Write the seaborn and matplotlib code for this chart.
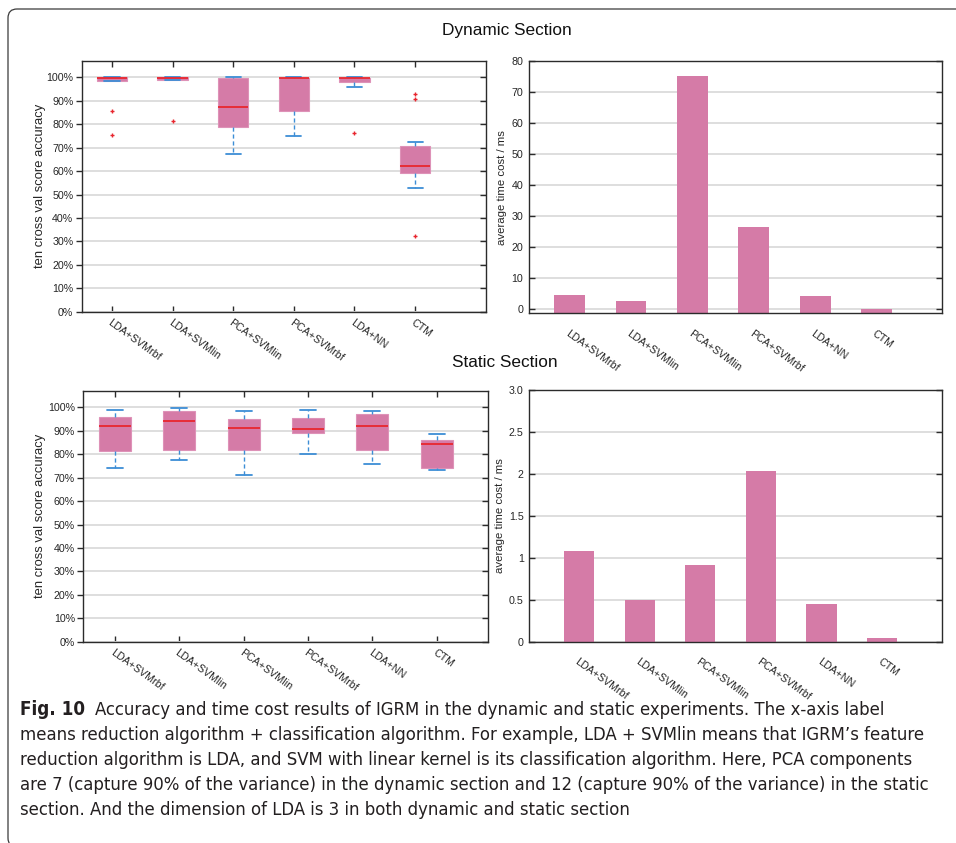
import os
import matplotlib
matplotlib.use("Agg")
import matplotlib.pyplot as plt
import seaborn as sns
import numpy as np
import pandas as pd
from matplotlib.patches import FancyBboxPatch
from matplotlib.transforms import IdentityTransform
from matplotlib import font_manager as fm

# ---------------- data ----------------
methods = ["LDA+SVMrbf", "LDA+SVMlin", "PCA+SVMlin", "PCA+SVMrbf", "LDA+NN", "CTM"]

# Dynamic section: ten-fold cross validation accuracy (%) box statistics
dyn_whislo = [98.3, 98.7, 67.1, 75.1, 96.0, 52.8]
dyn_q1 = [98.6, 99.0, 78.8, 85.5, 97.9, 59.0]
dyn_med = [99.7, 99.9, 87.3, 99.6, 99.7, 62.2]
dyn_q3 = [100.0, 100.0, 99.9, 99.7, 99.9, 70.8]
dyn_whishi = [100.0, 100.0, 100.0, 100.0, 100.0, 72.3]
dyn_fliers = [[85.5, 75.5], [81.6], [], [], [76.4], [93.0, 90.9, 32.3]]

# Static section
sta_whislo = [74.3, 77.7, 71.3, 79.9, 75.9, 73.1]
sta_q1 = [81.3, 81.7, 81.7, 89.0, 81.7, 74.3]
sta_med = [91.9, 94.4, 91.0, 90.6, 91.9, 84.3]
sta_q3 = [95.9, 98.3, 95.1, 95.6, 97.0, 86.0]
sta_whishi = [99.0, 99.9, 98.3, 99.0, 98.3, 88.7]
sta_fliers = [[], [], [], [], [], []]

# average time cost / ms
dyn_time = [4.5, 2.7, 75.3, 26.5, 4.4, 0.2]
sta_time = [1.08, 0.50, 0.92, 2.03, 0.45, 0.05]

pct_ticks = [0, 10, 20, 30, 40, 50, 60, 70, 80, 90, 100]
pct_labels = ["0%", "10%", "20%", "30%", "40%", "50%", "60%", "70%", "80%", "90%", "100%"]
dyn_time_ticks = [0, 10, 20, 30, 40, 50, 60, 70, 80]
sta_time_ticks = [0, 0.5, 1, 1.5, 2, 2.5, 3.0]
sta_time_labels = ["0", "0.5", "1", "1.5", "2", "2.5", "3.0"]

caption_first_bold = "Fig. 10"
caption_first_rest = "Accuracy and time cost results of IGRM in the dynamic and static experiments. The x-axis label"
caption_lines = [
    "means reduction algorithm + classification algorithm. For example, LDA + SVMlin means that IGRM\u2019s feature",
    "reduction algorithm is LDA, and SVM with linear kernel is its classification algorithm. Here, PCA components",
    "are 7 (capture 90% of the variance) in the dynamic section and 12 (capture 90% of the variance) in the static",
    "section. And the dimension of LDA is 3 in both dynamic and static section",
]

# ---------------- style ----------------
sns.set_theme(style="white")
plt.rcParams["font.family"] = ["Liberation Sans", "DejaVu Sans"]


def find_condensed():
    reg, bold = None, None
    files = sorted(set(f.fname for f in fm.fontManager.ttflist))
    extra = []
    for d in ["/usr/share/fonts", "/usr/local/share/fonts"]:
        if os.path.isdir(d):
            for root, _, fs in os.walk(d):
                for f in fs:
                    if f.lower().endswith((".ttf", ".otf")):
                        extra.append(os.path.join(root, f))
    files = sorted(set(files) | set(extra))
    for pref in ["liberationsansnarrow", "dejavusanscondensed", "robotocondensed", "opensanscondensed"]:
        for p in files:
            b = os.path.basename(p).lower().replace("-", "").replace("_", "")
            if b.startswith(pref):
                if "italic" in b or "oblique" in b:
                    continue
                if "bold" in b and bold is None:
                    bold = p
                elif "bold" not in b and reg is None and ("regular" in b or b.startswith(pref + ".")):
                    reg = p
        if reg is not None:
            return reg, bold
        bold = None
    return None, None


reg_path, bold_path = find_condensed()
if reg_path:
    cap_reg = fm.FontProperties(fname=reg_path)
    cap_bold = fm.FontProperties(fname=bold_path) if bold_path else fm.FontProperties(fname=reg_path, weight="bold")
else:
    cap_reg = fm.FontProperties(family="Lato")
    cap_bold = fm.FontProperties(family="Lato", weight="bold")

PINK = "#D57BA7"
BOX_EDGE = "#DE92B8"
RED = "#E8262E"
BLUE = "#3D8ED6"
GRID = "#DEDEDE"
SPINE = "#2B2B2B"
TXT = "#262626"
TICK_FS = 7.7

W, H = 956, 843
fig = plt.figure(figsize=(W / 100, H / 100), dpi=100)
fig.patch.set_facecolor("white")


def axes_px(left, right, top, bottom):
    return fig.add_axes([left / W, 1 - bottom / H, (right - left) / W, (bottom - top) / H])


ax_db = axes_px(81.7, 486.0, 61.0, 311.7)
ax_dt = axes_px(529.0, 941.7, 61.0, 313.3)
ax_sb = axes_px(83.3, 488.3, 391.0, 641.7)
ax_st = axes_px(529.3, 942.3, 390.0, 641.7)


def style_frame(ax):
    for s in ax.spines.values():
        s.set_visible(True)
        s.set_color(SPINE)
        s.set_linewidth(1.0)
    ax.set_axisbelow(True)
    ax.yaxis.grid(True, color=GRID, lw=1.4)
    ax.xaxis.grid(False)


def draw_box(ax, whislo, q1, med, q3, whishi, fliers, xlim, lpad):
    stats = []
    for i in range(len(methods)):
        stats.append(dict(label=methods[i], whislo=whislo[i], q1=q1[i], med=med[i],
                          q3=q3[i], whishi=whishi[i], fliers=fliers[i]))
    pos = list(range(len(methods)))
    ax.bxp(stats, positions=pos, widths=0.5, patch_artist=True, showfliers=True,
           boxprops=dict(facecolor=PINK, edgecolor=BOX_EDGE, lw=0.8),
           medianprops=dict(color=RED, lw=1.3),
           whiskerprops=dict(color=BLUE, lw=1.0, ls=(0, (3, 2))),
           capprops=dict(color=BLUE, lw=1.3),
           flierprops=dict(marker="+", markeredgecolor=RED, markerfacecolor=RED, ms=3.5, mew=1.0))
    style_frame(ax)
    ax.set_xlim(*xlim)
    ax.set_ylim(0, 107)
    ax.set_yticks(pct_ticks)
    ax.set_yticklabels(pct_labels, fontsize=TICK_FS, color=TXT)
    ax.set_xticks(pos)
    ax.set_xticklabels(methods, rotation=-36, ha="left", va="top", rotation_mode="anchor",
                       fontsize=TICK_FS, color=TXT)
    ax.tick_params(axis="x", direction="in", top=True, bottom=True, length=4, width=1,
                   color=SPINE, pad=4)
    ax.tick_params(axis="y", direction="out", left=True, right=False, length=4, width=1,
                   color=SPINE, pad=2)
    tw = ax.twinx()
    tw.set_ylim(ax.get_ylim())
    tw.set_yticks(pct_ticks)
    tw.tick_params(axis="y", direction="in", right=True, left=False, labelright=False,
                   length=4, width=1, color=SPINE)
    for s in tw.spines.values():
        s.set_visible(False)
    tw.grid(False)
    ax.set_ylabel("ten cross val score accuracy", fontsize=9.4, color=TXT, labelpad=lpad)
    ax.set_xlabel("")


def draw_bar(ax, vals, ylim, ticks, labels, xlim):
    df = pd.DataFrame({"method": methods, "time": vals})
    sns.barplot(data=df, x="method", y="time", color=PINK, saturation=1, width=0.5,
                edgecolor="none", linewidth=0, ax=ax, zorder=2)
    style_frame(ax)
    ax.set_xlim(*xlim)
    ax.set_ylim(*ylim)
    # bars start at the lower axis edge as in the source figure
    for p in ax.patches:
        top = p.get_y() + p.get_height()
        p.set_y(ylim[0])
        p.set_height(top - ylim[0])
    ax.set_yticks(ticks)
    ax.set_yticklabels(labels, fontsize=TICK_FS, color=TXT)
    ax.set_xticks(range(len(methods)))
    ax.set_xticklabels(methods, rotation=-36, ha="left", va="top", rotation_mode="anchor",
                       fontsize=TICK_FS, color=TXT)
    ax.tick_params(axis="x", bottom=False, top=False, pad=5)
    ax.tick_params(axis="y", direction="in", left=True, right=True, length=4, width=1,
                   color=SPINE, pad=4)
    ax.set_ylabel("average time cost / ms", fontsize=8.2, color=TXT, labelpad=3)
    ax.set_xlabel("")


draw_box(ax_db, dyn_whislo, dyn_q1, dyn_med, dyn_q3, dyn_whishi, dyn_fliers, (-0.5, 6.17), 0.5)
draw_box(ax_sb, sta_whislo, sta_q1, sta_med, sta_q3, sta_whishi, sta_fliers, (-0.49, 5.8), 1.5)
draw_bar(ax_dt, dyn_time, (-1.25, 80), dyn_time_ticks, [str(t) for t in dyn_time_ticks], (-0.66, 6.06))
draw_bar(ax_st, sta_time, (0, 3.0), sta_time_ticks, sta_time_labels, (-0.82, 5.99))

# section titles
fig.text(507 / W, 1 - 31 / H, "Dynamic Section", ha="center", va="center", fontsize=12.4, color="#111111")
fig.text(505 / W, 1 - 362.5 / H, "Static Section", ha="center", va="center", fontsize=12.4, color="#111111")

# frame around the figure
frame = FancyBboxPatch((8, -4), 1100, 834 + 4, boxstyle="round,pad=0,rounding_size=9",
                       transform=IdentityTransform(), fill=False, edgecolor="#3A3A3A", lw=0.9,
                       clip_on=False)
fig.add_artist(frame)

# caption
fig.canvas.draw()
renderer = fig.canvas.get_renderer()
probe = fig.text(0, 0, caption_lines[2], fontproperties=cap_reg, fontsize=12)
w12 = probe.get_window_extent(renderer).width
probe.remove()
cap_fs = 12 * 910.0 / w12

base_y = [715, 740, 765, 790, 815]
CAPC = "#231F20"
tb = fig.text(20 / W, 1 - base_y[0] / H, caption_first_bold, fontproperties=cap_bold,
              fontsize=cap_fs * 1.02, va="baseline", ha="left", color=CAPC)
fig.canvas.draw()
bx1 = tb.get_window_extent(renderer).x1
fig.text((bx1 + 10) / W, 1 - base_y[0] / H, caption_first_rest, fontproperties=cap_reg,
         fontsize=cap_fs, va="baseline", ha="left", color=CAPC)
for i, line in enumerate(caption_lines):
    fig.text(20 / W, 1 - base_y[i + 1] / H, line, fontproperties=cap_reg, fontsize=cap_fs,
             va="baseline", ha="left", color=CAPC)

fig.savefig("out.png", dpi=100)
